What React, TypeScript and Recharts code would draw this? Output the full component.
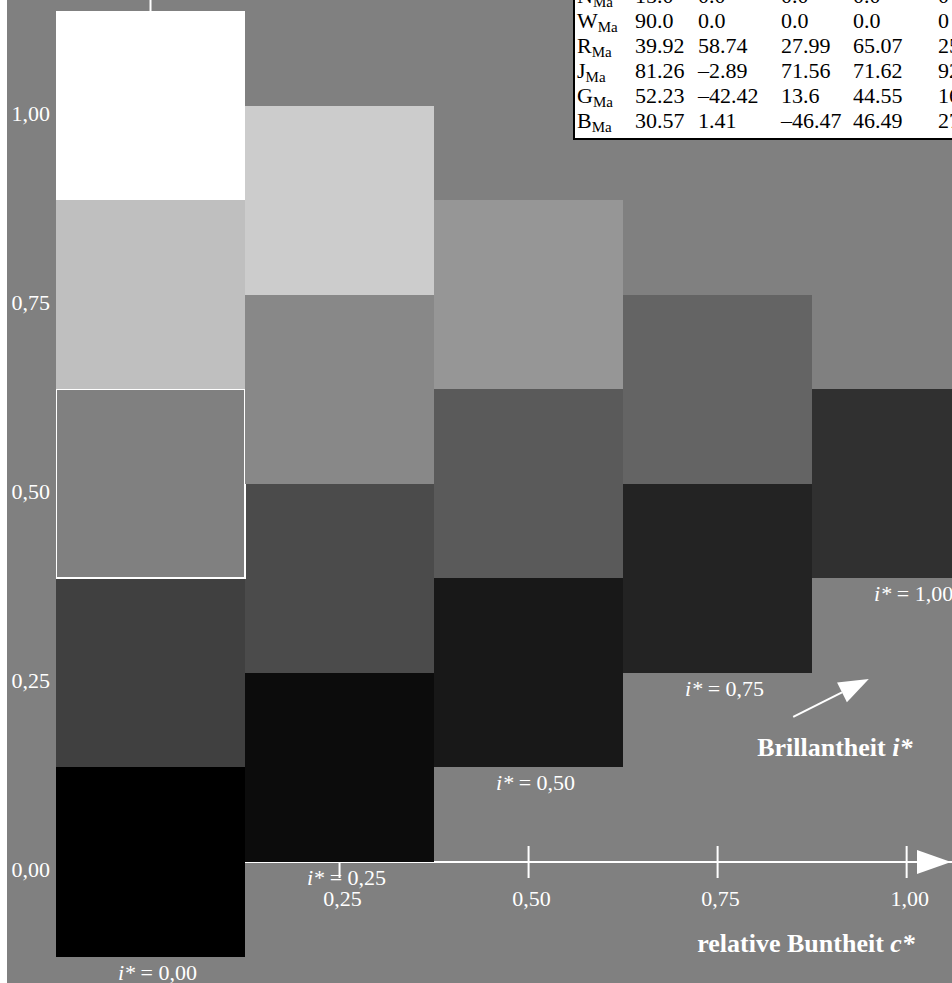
import { BarChart, Bar, XAxis, YAxis, Cell, LabelList, ReferenceLine, ReferenceDot } from 'recharts'

const FONT = '"Liberation Serif", "Times New Roman", serif'

// relative Buntheit c* of each column
const cStar = [0, 0.25, 0.5, 0.75, 1.0]
// lower edge of each column on the i* scale
const columnBase = [-0.125, 0, 0.125, 0.25, 0.375]
// box heights, bottom row first (null = no box in that column)
const row0 = [0.25, 0.25, 0.25, 0.25, 0.25]
const row1 = [0.25, 0.25, 0.25, 0.25, null]
const row2 = [0.25, 0.25, 0.25, null, null]
const row3 = [0.25, 0.25, null, null, null]
const row4 = [0.25, null, null, null, null]
// box colours, same layout
const fill0 = ['#000000', '#0c0c0c', '#181818', '#232323', '#303030']
const fill1 = ['#404040', '#4b4b4b', '#5a5a5a', '#646464']
const fill2 = ['#808080', '#888888', '#969696']
const fill3 = ['#bfbfbf', '#cccccc']
const fill4 = ['#ffffff']
const iLabels = ['0,00', '0,25', '0,50', '0,75', '1,00']

const yTicks = [0, 0.25, 0.5, 0.75, 1.0]
const yLabels = ['0,00', '0,25', '0,50', '0,75', '1,00']
const xTicks = [0.25, 0.5, 0.75, 1.0]
const xLabels = ['0,25', '0,50', '0,75', '1,00']

const X_MAX = 1.06

// arrow + caption for i*
const brillArrow = [{ x: 0.85, y: 0.192 }, { x: 0.95, y: 0.242 }]
const brillText = { x: 0.905, y: 0.151 }
const buntText = { x: 0.867, y: -0.1085 }

// colour data table (top right)
const tableKeys = ['N', 'W', 'R', 'J', 'G', 'B']
const colL = ['15.0', '90.0', '39.92', '81.26', '52.23', '30.57']
const colA = ['0.0', '0.0', '58.74', '–2.89', '–42.42', '1.41']
const colB = ['0.0', '0.0', '27.99', '71.56', '13.6', '–46.47']
const colC = ['0.0', '0.0', '65.07', '71.62', '44.55', '46.49']
const colH = ['0', '0', '25.48', '92.31', '162.22', '271.74']
const cellWidths = [60, 63, 83, 72, 85, 90]

const rows = [row0, row1, row2, row3, row4]
const fills = [fill0, fill1, fill2, fill3, fill4]

const data = cStar.map((c, i) => ({
  c,
  base: columnBase[i],
  r0: row0[i],
  r1: row1[i],
  r2: row2[i],
  r3: row3[i],
  r4: row4[i],
  iLabel: iLabels[i],
}))

const txt = { fill: '#fff', fontFamily: FONT }

function YTick({ x, y, payload }: any) {
  const idx = yTicks.indexOf(payload.value)
  return (
    <text x={x - 6} y={y + 15} textAnchor="end" fontSize={22} {...txt}>
      {yLabels[idx]}
    </text>
  )
}

function ColorTable() {
  return (
    <div
      style={{
        position: 'absolute',
        left: 566,
        top: -18,
        width: 480,
        height: 158,
        boxSizing: 'border-box',
        background: '#fff',
        borderLeft: '2px solid #000',
        borderBottom: '2px solid #000',
        paddingTop: 0.5,
        fontFamily: FONT,
        fontSize: 22,
        color: '#000',
      }}
    >
      {tableKeys.map((k, r) => {
        const cells = [colL[r], colA[r], colB[r], colC[r], colH[r]]
        return (
          <div key={k} style={{ display: 'flex', height: 25, lineHeight: '25px', whiteSpace: 'nowrap' }}>
            <span style={{ width: cellWidths[0], flex: 'none', paddingLeft: 2, boxSizing: 'border-box' }}>
              {k}
              <span style={{ fontSize: 15, position: 'relative', top: 4 }}>Ma</span>
            </span>
            {cells.map((v, j) => (
              <span key={j} style={{ width: cellWidths[j + 1], flex: 'none' }}>
                {v}
              </span>
            ))}
          </div>
        )
      })}
    </div>
  )
}

export default function App() {
  return (
    <div
      style={{
        position: 'absolute',
        left: 7,
        top: 0,
        width: 945,
        height: 983,
        background: '#808080',
        overflow: 'hidden',
      }}
    >
      <BarChart
        width={945}
        height={983}
        data={data}
        margin={{ top: 0, right: 0, bottom: 0, left: 0 }}
        barCategoryGap={0}
        barGap={0}
      >
        <XAxis type="number" dataKey="c" domain={[-0.125, X_MAX]} ticks={cStar} allowDataOverflow hide />
        <YAxis
          type="number"
          domain={[-0.16, 1.14]}
          allowDataOverflow
          ticks={yTicks}
          interval={0}
          width={49}
          axisLine={false}
          tickLine={false}
          tickSize={0}
          tickMargin={0}
          tick={(p: any) => <YTick {...p} />}
        />

        {/* axes of the c*-i* plane, drawn under the boxes */}
        <ReferenceLine
          segment={[{ x: 0, y: 0 }, { x: 0, y: 1.14 }]}
          stroke="#fff"
          strokeWidth={2}
          zIndex={0}
        />
        <ReferenceLine
          segment={[{ x: 0, y: 0 }, { x: X_MAX, y: 0 }]}
          stroke="#fff"
          strokeWidth={2}
          zIndex={0}
        />
        {xTicks.map((t, i) => (
          <ReferenceDot
            key={t}
            x={t}
            y={0}
            r={0}
            zIndex={0}
            shape={(p: any) => (
              <g>
                <line x1={p.cx} x2={p.cx} y1={p.cy - 16} y2={p.cy + 16} stroke="#fff" strokeWidth={2} />
                <text x={p.cx + 3} y={p.cy + 44} textAnchor="middle" fontSize={22} {...txt}>
                  {xLabels[i]}
                </text>
              </g>
            )}
          />
        ))}
        <ReferenceDot
          x={X_MAX}
          y={0}
          r={0}
          zIndex={0}
          shape={(p: any) => (
            <polygon
              points={`${p.cx - 1},${p.cy} ${p.cx - 35},${p.cy - 12} ${p.cx - 35},${p.cy + 12}`}
              fill="#fff"
            />
          )}
        />

        <Bar dataKey="base" stackId="s" fill="none" isAnimationActive={false} />
        {rows.map((row, r) => (
          <Bar key={r} dataKey={`r${r}`} stackId="s" isAnimationActive={false} shapeRendering="crispEdges">
            {row.map((v, i) => (
              <Cell
                key={i}
                fill={v == null ? 'none' : fills[r][i]}
                stroke={r === 2 && i === 0 ? '#fff' : 'none'}
                strokeWidth={2}
                shapeRendering="crispEdges"
              />
            ))}
            {r === 0 && (
              <LabelList
                dataKey="iLabel"
                content={(p: any) => (
                  <text
                    x={p.x + p.width / 2 + 7}
                    y={p.y + p.height + 23}
                    textAnchor="middle"
                    fontSize={22}
                    {...txt}
                  >
                    <tspan fontStyle="italic">i*</tspan> = {p.value}
                  </text>
                )}
              />
            )}
          </Bar>
        ))}

        {/* Brillantheit arrow and captions */}
        <ReferenceLine
          segment={brillArrow}
          stroke="#fff"
          strokeWidth={2}
          shape={(p: any) => {
            const dx = p.x2 - p.x1
            const dy = p.y2 - p.y1
            const len = Math.sqrt(dx * dx + dy * dy)
            const ux = dx / len
            const uy = dy / len
            const bx = p.x2 - ux * 30
            const by = p.y2 - uy * 30
            return (
              <g>
                <line x1={p.x1} y1={p.y1} x2={bx} y2={by} stroke="#fff" strokeWidth={2} />
                <polygon
                  points={`${p.x2},${p.y2} ${bx - uy * 11},${by + ux * 11} ${bx + uy * 11},${by - ux * 11}`}
                  fill="#fff"
                />
              </g>
            )
          }}
        />
        <ReferenceDot
          x={brillText.x}
          y={brillText.y}
          r={0}
          shape={(p: any) => (
            <text x={p.cx} y={p.cy + 8} textAnchor="middle" fontSize={26} fontWeight="bold" {...txt}>
              Brillantheit <tspan fontStyle="italic">i*</tspan>
            </text>
          )}
        />
        <ReferenceDot
          x={buntText.x}
          y={buntText.y}
          r={0}
          shape={(p: any) => (
            <text x={p.cx} y={p.cy + 8} textAnchor="middle" fontSize={26} fontWeight="bold" {...txt}>
              relative Buntheit <tspan fontStyle="italic">c*</tspan>
            </text>
          )}
        />
      </BarChart>
      <ColorTable />
    </div>
  )
}
